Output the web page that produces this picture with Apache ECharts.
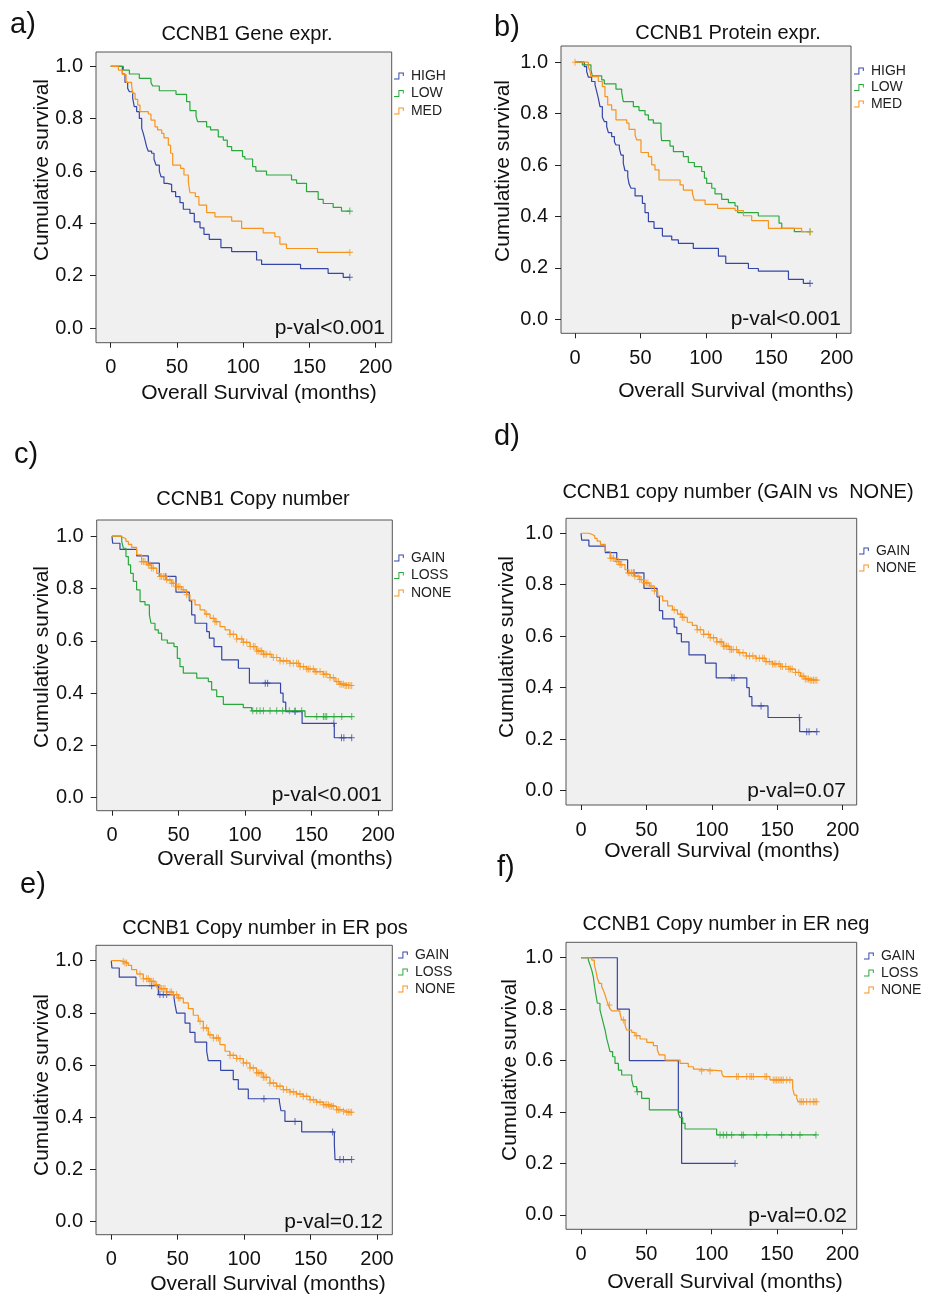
<!DOCTYPE html>
<html><head><meta charset="utf-8">
<script src="https://cdn.jsdelivr.net/npm/echarts@6/dist/echarts.min.js"></script>
<style>html,body{margin:0;padding:0;background:#fff}#c{width:925px;height:1294px}</style>
</head><body><div id="c"></div>
<script>
// ---------- DATA (step points [months, survival]) ----------
const xTicks = [0, 50, 100, 150, 200];
const yTicks = [0, 0.2, 0.4, 0.6, 0.8, 1.0];

// a) Gene expression
const geneHigh = [[0,1],[8.8,0.971],[10.8,0.939],[12.8,0.916],[14.1,0.903],[16.6,0.878],[17.8,0.846],[19.6,0.827],[21.6,0.801],[23.4,0.763],[24.6,0.744],[25.9,0.718],[27.1,0.693],[28.4,0.676],[30.9,0.668],[32.7,0.645],[34.2,0.623],[36.7,0.600],[38.0,0.578],[40.2,0.553],[42.7,0.549],[46.0,0.521],[49.0,0.502],[52.3,0.479],[54.8,0.454],[59.8,0.438],[63.1,0.406],[67.4,0.383],[70.4,0.358],[74.4,0.339],[83.2,0.307],[91.3,0.292],[110.1,0.260],[113.9,0.243],[143.3,0.227],[164.1,0.209],[175.5,0.194],[180.5,0.194]];
const geneLow = [[0,1],[9.6,0.986],[14.1,0.971],[21.6,0.954],[30.4,0.938],[31.7,0.925],[36.7,0.907],[49.3,0.893],[57.3,0.865],[59.8,0.831],[64.4,0.810],[65.6,0.789],[72.4,0.769],[75.4,0.757],[81.2,0.731],[85.0,0.718],[88.0,0.693],[91.3,0.678],[99.5,0.655],[101.3,0.646],[107.1,0.617],[109.6,0.600],[117.6,0.585],[136.5,0.566],[140.3,0.553],[147.8,0.521],[156.6,0.492],[160.4,0.476],[167.9,0.461],[174.2,0.447],[180.5,0.447]];
const geneMed = [[0,1],[5.8,0.986],[8.8,0.969],[11.6,0.939],[15.8,0.926],[16.6,0.897],[18.4,0.874],[20.4,0.852],[22.1,0.827],[28.4,0.818],[30.4,0.795],[33.4,0.769],[35.4,0.757],[38.5,0.744],[40.2,0.727],[43.5,0.699],[45.2,0.668],[46.8,0.623],[52.8,0.610],[55.3,0.585],[58.6,0.559],[59.8,0.517],[63.9,0.502],[66.6,0.470],[72.4,0.441],[78.7,0.425],[91.3,0.409],[98.8,0.381],[115.1,0.364],[123.9,0.349],[127.7,0.321],[132.7,0.304],[156.1,0.289],[180.5,0.289]];
const geneHighCens = [180.5];
const geneLowCens = [180.5];
const geneMedCens = [180.5];

// b) Protein expression
const protHigh = [[0,1],[7.1,0.983],[8.9,0.964],[10.2,0.942],[12.7,0.925],[15.3,0.912],[16.6,0.886],[17.8,0.860],[19.1,0.827],[20.9,0.786],[22.4,0.769],[24.2,0.750],[25.5,0.726],[28.0,0.711],[30.1,0.691],[31.3,0.678],[33.9,0.665],[35.2,0.639],[36.9,0.607],[38.2,0.578],[40.3,0.555],[41.3,0.527],[42.8,0.510],[45.9,0.480],[51.5,0.451],[53.5,0.415],[56.1,0.380],[60.4,0.354],[66.8,0.324],[73.9,0.309],[79.0,0.296],[90.4,0.276],[109.6,0.246],[115.2,0.218],[132.5,0.198],[140.1,0.188],[163.1,0.156],[174.5,0.140],[179.6,0.140]];
const protLow = [[0,1],[5.6,0.990],[12.2,0.970],[13.2,0.947],[20.4,0.931],[22.4,0.916],[31.3,0.895],[35.7,0.882],[36.9,0.847],[44.6,0.827],[48.9,0.812],[53.5,0.795],[56.1,0.776],[59.9,0.763],[65.7,0.724],[66.2,0.695],[72.6,0.674],[75.2,0.652],[82.8,0.633],[86.6,0.610],[91.2,0.594],[96.8,0.575],[98.9,0.549],[100.6,0.529],[104.5,0.510],[107.0,0.488],[112.1,0.467],[117.2,0.454],[122.3,0.441],[124.3,0.415],[140.1,0.402],[155.9,0.374],[158.0,0.354],[167.6,0.341],[179.6,0.341]];
const protMed = [[0,1],[10.2,0.983],[11.5,0.964],[12.2,0.944],[17.8,0.925],[20.9,0.905],[22.9,0.866],[25.0,0.834],[28.0,0.815],[31.3,0.776],[39.5,0.763],[41.3,0.739],[45.9,0.717],[47.1,0.698],[50.4,0.649],[56.1,0.633],[58.6,0.601],[61.1,0.581],[64.2,0.542],[80.3,0.523],[82.8,0.503],[89.7,0.490],[91.2,0.464],[99.4,0.447],[109.0,0.432],[122.3,0.423],[128.7,0.403],[135.0,0.384],[147.8,0.354],[173.2,0.341],[179.6,0.341]];
const protHighCens = [179.6];
const protLowCens = [179.6];
const protMedCens = [0, 179.6];

// c) / d) Copy number (all patients)
const cnGain = [[0,1],[0.5,0.973],[6.0,0.950],[18.5,0.925],[27.3,0.897],[35.6,0.846],[48.1,0.786],[58.1,0.753],[59.9,0.699],[62.4,0.667],[71.2,0.635],[73.2,0.610],[76.7,0.578],[82.5,0.527],[95.0,0.495],[103.3,0.438],[126.7,0.400],[128.6,0.365],[130.6,0.329],[142.9,0.284],[167.1,0.229],[180.2,0.229]];
const cnLoss = [[0,1],[7.3,0.980],[8.5,0.954],[10.5,0.922],[12.3,0.890],[14.0,0.858],[16.0,0.827],[18.5,0.795],[21.1,0.750],[24.8,0.737],[28.1,0.699],[29.3,0.667],[32.3,0.642],[34.8,0.629],[37.3,0.603],[41.6,0.591],[46.6,0.578],[49.1,0.533],[51.1,0.501],[53.6,0.476],[63.7,0.457],[72.4,0.444],[74.9,0.412],[78.7,0.386],[83.7,0.357],[98.7,0.344],[105.0,0.332],[145.1,0.310],[180.2,0.310]];
const cnNone = [[0,1],[6.0,0.995],[8.5,0.990],[10.5,0.980],[12.3,0.969],[14.8,0.957],[18.5,0.929],[22.3,0.903],[26.1,0.890],[29.8,0.878],[33.6,0.858],[36.1,0.846],[41.1,0.833],[44.9,0.820],[48.6,0.807],[52.4,0.795],[56.1,0.776],[58.6,0.756],[62.4,0.737],[66.2,0.718],[69.9,0.702],[73.7,0.686],[77.4,0.673],[81.2,0.654],[85.0,0.642],[88.7,0.625],[93.7,0.607],[98.7,0.594],[103.8,0.578],[108.8,0.561],[113.8,0.548],[120.1,0.536],[126.3,0.523],[133.8,0.514],[141.4,0.501],[146.4,0.492],[152.6,0.482],[158.9,0.472],[163.9,0.459],[167.7,0.444],[171.4,0.434],[175.2,0.429],[180.2,0.429]];
const cnGainCens = [40.5,115.2,117.0,137.6,166.8,172.5,174.3,180.2];
const cnLossCens = [105.8,108.8,111.3,113.8,118.8,123.8,128.3,133.3,137.6,142.6,153.9,158.9,160.2,161.4,166.9,172.7,180.2];
const cnNoneCens = [22.3,23.6,24.8,27.3,28.6,29.8,31.1,36.1,37.3,38.6,39.8,41.1,43.6,44.9,46.1,48.6,49.9,51.1,53.6,56.1,71.2,76.2,77.4,78.7,88.7,91.2,93.7,97.5,98.7,101.3,103.8,106.3,107.5,108.8,110.0,111.3,112.5,113.8,115.0,116.3,118.8,121.3,123.8,126.3,128.8,131.3,133.8,136.3,138.8,140.1,141.4,143.9,146.4,147.6,148.9,151.4,152.6,153.9,156.4,158.9,160.2,161.4,163.9,166.4,168.9,170.2,171.4,172.7,173.9,175.2,176.4,177.7,178.9,180.2];

// e) ER positive
const erPosGain = [[0,1],[0.5,0.972],[6.0,0.937],[18.6,0.904],[35.4,0.870],[47.2,0.857],[47.9,0.834],[49.2,0.799],[55.5,0.761],[59.2,0.725],[63.0,0.688],[71.8,0.653],[73.0,0.617],[82.3,0.580],[91.8,0.544],[95.6,0.508],[103.1,0.471],[126.5,0.461],[127.7,0.425],[130.7,0.384],[143.3,0.344],[167.9,0.295],[168.4,0.238],[180.9,0.238]];
const erPosNone = [[0,1],[6.5,0.997],[10.3,0.991],[12.8,0.982],[15.3,0.966],[19.1,0.949],[24.1,0.931],[29.1,0.921],[32.9,0.908],[36.6,0.893],[41.7,0.880],[46.7,0.870],[50.4,0.857],[54.2,0.838],[58.0,0.816],[61.7,0.791],[65.5,0.768],[69.3,0.742],[73.0,0.716],[76.8,0.704],[81.8,0.678],[85.6,0.653],[89.3,0.637],[94.4,0.625],[99.4,0.608],[104.4,0.589],[109.4,0.570],[114.4,0.553],[119.4,0.531],[124.5,0.519],[129.5,0.506],[134.5,0.497],[139.5,0.489],[144.5,0.480],[149.6,0.467],[154.6,0.458],[159.6,0.448],[164.6,0.442],[169.6,0.429],[174.7,0.423],[177.2,0.419],[180.9,0.419]];
const erPosGainCens = [30.4,36.6,39.1,41.7,114.9,138.3,166.6,172.1,174.7,180.9];
const erPosNoneCens = [9.0,10.3,11.5,21.6,24.1,26.6,27.9,29.1,30.4,31.6,34.1,36.6,37.9,39.1,40.4,41.7,44.2,45.4,46.7,49.2,50.4,51.7,66.8,69.3,71.8,74.3,76.8,79.3,80.6,89.3,91.8,94.4,96.9,99.4,101.9,104.4,106.9,109.4,110.7,111.9,113.2,114.4,115.7,116.9,119.4,122.0,124.5,127.0,129.5,132.0,134.5,137.0,139.5,142.0,144.5,147.1,149.6,152.1,154.6,157.1,159.6,160.9,162.1,163.4,164.6,165.9,167.1,169.6,170.9,172.1,174.7,177.2,178.4,179.7,180.9];

// f) ER negative
const erNegGain = [[0,1],[27.8,0.8],[37.0,0.6],[74.5,0.4],[77.0,0.2],[117.9,0.2]];
const erNegLoss = [[0,1],[5.6,0.991],[6.9,0.972],[8.2,0.952],[9.4,0.926],[10.2,0.894],[11.2,0.861],[12.5,0.823],[14.5,0.797],[15.8,0.771],[17.1,0.745],[18.4,0.719],[19.6,0.687],[20.9,0.661],[22.2,0.635],[24.2,0.615],[26.0,0.589],[28.6,0.563],[31.1,0.544],[38.8,0.525],[40.1,0.499],[42.6,0.479],[46.4,0.453],[52.3,0.408],[74.5,0.395],[75.8,0.378],[77.8,0.356],[79.6,0.334],[103.8,0.311],[179.8,0.311]];
const erNegNone = [[0,1],[8.2,0.991],[10.2,0.972],[11.5,0.946],[12.5,0.920],[14.0,0.900],[15.8,0.887],[17.1,0.874],[18.4,0.855],[19.6,0.835],[20.9,0.816],[22.2,0.801],[23.5,0.793],[29.8,0.784],[31.1,0.758],[33.7,0.738],[34.9,0.719],[38.8,0.710],[41.3,0.697],[45.2,0.684],[50.3,0.671],[55.4,0.658],[58.4,0.641],[59.9,0.622],[64.3,0.602],[75.8,0.589],[82.1,0.576],[86.0,0.567],[89.8,0.560],[107.7,0.551],[108.9,0.538],[144.6,0.525],[162.0,0.492],[163.3,0.466],[165.1,0.453],[166.3,0.440],[180.4,0.440]];
const erNegGainCens = [117.9];
const erNegLossCens = [43.1,106.4,108.9,111.5,115.3,123.0,124.2,134.4,142.1,153.6,161.2,167.6,179.8];
const erNegNoneCens = [21.7,32.4,42.6,92.3,98.7,119.1,120.4,126.8,129.3,130.6,131.9,140.8,142.1,147.2,148.5,149.7,151.0,152.3,153.6,154.8,157.4,159.9,167.6,168.9,170.2,172.7,175.3,177.8,179.1,180.4];

// ---------- STYLE / LAYOUT ----------
const BLUE = '#3446a8', GREEN = '#2aa83c', ORANGE = '#f7941d';
const FONT = '"Liberation Sans", Arial, sans-serif';
const PLUS = 'path://M4.2,0H5.8V4.2H10V5.8H5.8V10H4.2V5.8H0V4.2H4.2Z';
const STEP = 'path://M0,8.5H6.3V0H14V5H12.6V1.5H7.7V10H0Z';

const panels = [
  {label:'a)', title:'CCNB1 Gene expr.', pval:'p-val<0.001', box:[96,52,391.7,342.7], xr:[-11.1,212.1], yr:[-0.056,1.055],
   series:[['HIGH',geneHigh,geneHighCens,BLUE],['LOW',geneLow,geneLowCens,GREEN],['MED',geneMed,geneMedCens,ORANGE]],
   legendNames:['HIGH','LOW','MED'], leg:[394,69,3.5],
   lab:[10,25], tit:[247,34], xn:[259,393], yn:[42,170], pv:[385,328]},
  {label:'b)', title:'CCNB1 Protein expr.', pval:'p-val<0.001', box:[561,46,851,333.3], xr:[-10.7,210.9], yr:[-0.054,1.063],
   series:[['HIGH',protHigh,protHighCens,BLUE],['LOW',protLow,protLowCens,GREEN],['MED',protMed,protMedCens,ORANGE]],
   legendNames:['HIGH','LOW','MED'], leg:[854,64,2.5],
   lab:[494,28], tit:[728,33], xn:[736,391], yn:[503,171], pv:[841,319]},
  {label:'c)', title:'CCNB1 Copy number', pval:'p-val<0.001', box:[96.7,520,392.3,810.7], xr:[-11.5,210.7], yr:[-0.050,1.062],
   series:[['GAIN',cnGain,cnGainCens,BLUE],['LOSS',cnLoss,cnLossCens,GREEN],['NONE',cnNone,cnNoneCens,ORANGE]],
   legendNames:['GAIN','LOSS','NONE'], leg:[394,551,3.5],
   lab:[14,455], tit:[253,499], xn:[275,859], yn:[42,657], pv:[382,795]},
  {label:'d)', title:'CCNB1 copy number (GAIN vs  NONE)', pval:'p-val=0.07', box:[566,518.3,856.7,805], xr:[-11.5,210.7], yr:[-0.056,1.058],
   series:[['GAIN',cnGain,cnGainCens,BLUE],['NONE',cnNone,cnNoneCens,ORANGE]],
   legendNames:['GAIN','NONE'], leg:[859,544,3],
   lab:[494,437], tit:[738,492], xn:[722,851], yn:[507,647], pv:[846,791]},
  {label:'e)', title:'CCNB1 Copy number in ER pos', pval:'p-val=0.12', box:[96,945.3,392.3,1234.7], xr:[-11.5,211.5], yr:[-0.050,1.059],
   series:[['GAIN',erPosGain,erPosGainCens,BLUE],['NONE',erPosNone,erPosNoneCens,ORANGE]],
   legendNames:['GAIN','LOSS','NONE'], leg:[398,948,3],
   lab:[20,885], tit:[265,928], xn:[268,1284], yn:[42,1085], pv:[383,1222]},
  {label:'f)', title:'CCNB1 Copy number in ER neg', pval:'p-val=0.02', box:[566,942.3,856.7,1229.3], xr:[-11.5,211], yr:[-0.056,1.060],
   series:[['GAIN',erNegGain,erNegGainCens,BLUE],['LOSS',erNegLoss,erNegLossCens,GREEN],['NONE',erNegNone,erNegNoneCens,ORANGE]],
   legendNames:['GAIN','LOSS','NONE'], leg:[864,949,3],
   lab:[497,868], tit:[726,924], xn:[725,1282], yn:[510,1070], pv:[847,1216]}
];

function survAt(curve, t) {
  let y = curve[0][1];
  for (const p of curve) { if (p[0] <= t) y = p[1]; else break; }
  return y;
}

const grid = [], xAxis = [], yAxis = [], series = [], legend = [], graphic = [];
const txt = (x, y, text, size, align, extra) => Object.assign({
  type:'text', x, y, silent:true,
  style:{text, fontSize:size, fontFamily:FONT, fill:'#111', align:align, verticalAlign:'middle'}
}, extra || {});

panels.forEach((p, i) => {
  const [l, t, r, b] = p.box;
  grid.push({left:l, top:t, width:r-l, height:b-t, show:true, backgroundColor:'#f0f0f0', borderColor:'#555', borderWidth:1, containLabel:false});
  xAxis.push({gridIndex:i, type:'value', min:p.xr[0], max:p.xr[1], position:'bottom',
    axisLine:{show:false, onZero:false}, splitLine:{show:false},
    axisTick:{show:true, inside:false, length:5, customValues:xTicks, lineStyle:{color:'#222', width:1}},
    axisLabel:{customValues:xTicks, fontSize:20, fontFamily:FONT, color:'#111', margin:15}});
  yAxis.push({gridIndex:i, type:'value', min:p.yr[0], max:p.yr[1], position:'left',
    axisLine:{show:false, onZero:false}, splitLine:{show:false},
    axisTick:{show:true, inside:false, length:6, customValues:yTicks, lineStyle:{color:'#222', width:1}},
    axisLabel:{customValues:yTicks, fontSize:20, fontFamily:FONT, color:'#111', margin:13, formatter:v => v.toFixed(1)}});
  p.series.forEach(([name, curve, cens, color]) => {
    series.push({type:'line', name, xAxisIndex:i, yAxisIndex:i, data:curve, step:'end', symbol:'none', showSymbol:false,
      color, lineStyle:{width:1.2, color}, animation:false, silent:true, z:3});
    series.push({type:'scatter', name, xAxisIndex:i, yAxisIndex:i, data:cens.map(c => [c, survAt(curve, c)]),
      symbol:PLUS, symbolSize:[6,7], color, itemStyle:{color}, animation:false, silent:true, z:4});
  });
  legend.push({left:p.leg[0], top:p.leg[1], orient:'vertical', itemGap:p.leg[2], itemWidth:14, itemHeight:7,
    icon:STEP, data:p.legendNames, selectedMode:false, padding:0, itemStyle:{borderWidth:0},
    textStyle:{fontSize:14, fontFamily:FONT, color:'#222', lineHeight:14}});
  graphic.push(txt(p.lab[0], p.lab[1], p.label, 29, 'left'));
  graphic.push(txt(p.tit[0], p.tit[1], p.title, 20, 'center'));
  graphic.push(txt(p.xn[0], p.xn[1], 'Overall Survival (months)', 21, 'center'));
  graphic.push(txt(p.yn[0], p.yn[1], 'Cumulative survival', 21, 'center', {rotation:Math.PI/2}));
  graphic.push(txt(p.pv[0], p.pv[1], p.pval, 21, 'right', {z:10}));
});

const chart = echarts.init(document.getElementById('c'), null, {renderer:'canvas'});
chart.setOption({animation:false, backgroundColor:'#fff', grid, xAxis, yAxis, series, legend, graphic});
</script>
</body></html>
